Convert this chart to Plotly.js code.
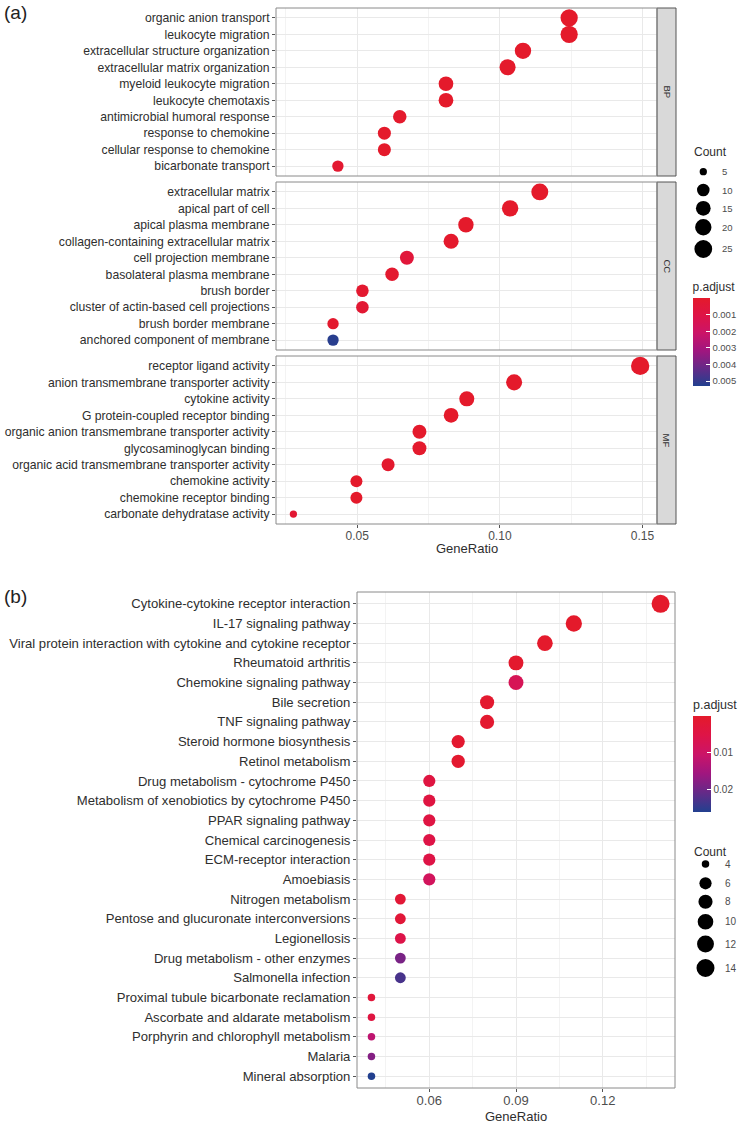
<!DOCTYPE html>
<html>
<head>
<meta charset="utf-8">
<script src="https://cdn.plot.ly/plotly-3.0.1.min.js"></script>
<style>html,body{margin:0;padding:0;background:#fff;}#chart{width:742px;height:1124px;}</style>
</head>
<body>
<div id="chart"></div>
<script>
// ---------- DATA (a) GO enrichment ----------
const bpTerms = ['organic anion transport','leukocyte migration','extracellular structure organization','extracellular matrix organization','myeloid leukocyte migration','leukocyte chemotaxis','antimicrobial humoral response','response to chemokine','cellular response to chemokine','bicarbonate transport'];
const bpRatio = [0.1243,0.1243,0.1081,0.1027,0.0811,0.0811,0.0649,0.0595,0.0595,0.0432];
const bpCount = [23,23,20,19,15,15,12,11,11,8];
const bpPadj  = [1.2e-8,3.5e-9,4.1e-7,2.0e-6,1.5e-7,2.8e-7,8.0e-5,1.1e-5,1.6e-5,2.3e-4];

const ccTerms = ['extracellular matrix','apical part of cell','apical plasma membrane','collagen-containing extracellular matrix','cell projection membrane','basolateral plasma membrane','brush border','cluster of actin-based cell projections','brush border membrane','anchored component of membrane'];
const ccRatio = [0.1140,0.1036,0.0881,0.0829,0.0674,0.0622,0.0518,0.0518,0.0415,0.0415];
const ccCount = [22,20,17,16,13,12,10,10,8,8];
const ccPadj  = [1.0e-9,2.0e-6,1.0e-5,6.0e-5,5.5e-4,1.5e-4,2.0e-4,3.0e-4,1.0e-4,5.2e-3];

const mfTerms = ['receptor ligand activity','anion transmembrane transporter activity','cytokine activity','G protein-coupled receptor binding','organic anion transmembrane transporter activity','glycosaminoglycan binding','organic acid transmembrane transporter activity','chemokine activity','chemokine receptor binding','carbonate dehydratase activity'];
const mfRatio = [0.1492,0.1050,0.0884,0.0829,0.0718,0.0718,0.0608,0.0497,0.0497,0.0276];
const mfCount = [27,19,16,15,13,13,11,9,9,5];
const mfPadj  = [1.0e-12,3.0e-6,2.0e-6,2.0e-6,5.0e-5,6.0e-5,1.2e-4,1.0e-5,1.5e-5,3.0e-4];

const goFacets = ['BP','CC','MF'];
const goXTicks = [0.05,0.10,0.15];
const goXTickText = ['0.05','0.10','0.15'];
const goCountLegend = [5,10,15,20,25];
const goPTicks = [0.001,0.002,0.003,0.004,0.005];

// ---------- DATA (b) KEGG enrichment ----------
const keggTerms = ['Cytokine-cytokine receptor interaction','IL-17 signaling pathway','Viral protein interaction with cytokine and cytokine receptor','Rheumatoid arthritis','Chemokine signaling pathway','Bile secretion','TNF signaling pathway','Steroid hormone biosynthesis','Retinol metabolism','Drug metabolism - cytochrome P450','Metabolism of xenobiotics by cytochrome P450','PPAR signaling pathway','Chemical carcinogenesis','ECM-receptor interaction','Amoebiasis','Nitrogen metabolism','Pentose and glucuronate interconversions','Legionellosis','Drug metabolism - other enzymes','Salmonella infection','Proximal tubule bicarbonate reclamation','Ascorbate and aldarate metabolism','Porphyrin and chlorophyll metabolism','Malaria','Mineral absorption'];
const keggRatio = [0.14,0.11,0.10,0.09,0.09,0.08,0.08,0.07,0.07,0.06,0.06,0.06,0.06,0.06,0.06,0.05,0.05,0.05,0.05,0.05,0.04,0.04,0.04,0.04,0.04];
const keggCount = [14,11,10,9,9,8,8,7,7,6,6,6,6,6,6,5,5,5,5,5,4,4,4,4,4];
const keggPadj  = [1.0e-6,1.0e-5,1.0e-4,5.0e-4,7.5e-3,8.0e-4,1.0e-3,9.0e-4,1.0e-3,4.0e-3,4.0e-3,4.5e-3,5.0e-3,5.0e-3,8.5e-3,2.0e-3,2.5e-3,5.5e-3,1.9e-2,2.3e-2,3.0e-3,4.0e-3,1.2e-2,1.8e-2,2.6e-2];
const keggXTicks = [0.06,0.09,0.12];
const keggXTickText = ['0.06','0.09','0.12'];
const keggCountLegend = [4,6,8,10,12,14];
const keggPTicks = [0.01,0.02];

// ---------- STYLE / LAYOUT HELPERS ----------
const W = 742, H = 1124;
const FONT = 'Liberation Sans, Arial, Helvetica, sans-serif';
const px = v => v / W;
const py = v => 1 - v / H;
// red (low p.adjust) -> blue (high p.adjust); values are negated so red sits on top of the colorbar
const CSCALE = [[0,'#22408F'],[0.2,'#642A88'],[0.4,'#A0167F'],[0.6,'#CB1468'],[0.8,'#DE1447'],[1,'#E41A2B']];
const GRID = '#E9E9E9', MINOR = '#F3F3F3', BORDER = '#8a8a8a', TXT = '#2e2e2e', LTXT = '#4d4d4d';

const goAllCounts = bpCount.concat(ccCount, mfCount);
const goCmin = Math.min(...goAllCounts), goCmax = Math.max(...goAllCounts);
const goSize = c => 7.3 + (18.3 - 7.3) * Math.sqrt((c - goCmin) / (goCmax - goCmin));
const kgCmin = Math.min(...keggCount), kgCmax = Math.max(...keggCount);
const kgSize = c => 7.5 + (18 - 7.5) * Math.sqrt((c - kgCmin) / (kgCmax - kgCmin));

function pointTrace(x, y, counts, padj, sizeFn, xa, ya, cax) {
  return {
    type: 'scatter', mode: 'markers', x: x, y: y, xaxis: xa, yaxis: ya,
    cliponaxis: false, hoverinfo: 'skip',
    marker: { size: counts.map(sizeFn), color: padj.map(p => -p), coloraxis: cax, line: { width: 0 }, opacity: 1 }
  };
}

const data = [
  pointTrace(bpRatio, bpTerms, bpCount, bpPadj, goSize, 'x', 'y', 'coloraxis'),
  pointTrace(ccRatio, ccTerms, ccCount, ccPadj, goSize, 'x', 'y2', 'coloraxis'),
  pointTrace(mfRatio, mfTerms, mfCount, mfPadj, goSize, 'x', 'y3', 'coloraxis'),
  pointTrace(keggRatio, keggTerms, keggCount, keggPadj, kgSize, 'x2', 'y4', 'coloraxis2')
];

// panel pixel geometry
const goX = [276, 657];
const goPanels = [[8, 176], [182, 350], [356, 524]];
const kgX = [357, 675];
const kgY = [592, 1088];
const strip = [657, 676];

function yAxis(terms, yr, fontSize) {
  return {
    domain: [py(yr[1]), py(yr[0])], anchor: 'x', type: 'category',
    categoryorder: 'array', categoryarray: terms,
    range: [terms.length - 0.4, -0.6], autorange: false,
    showgrid: true, gridcolor: GRID, gridwidth: 1, zeroline: false, showline: false,
    ticks: 'outside', ticklen: 3, tickcolor: '#555', tickwidth: 1,
    tickfont: { family: FONT, size: fontSize, color: TXT }, fixedrange: true
  };
}

const layout = {
  width: W, height: H,
  margin: { l: 0, r: 0, t: 0, b: 0, pad: 0 },
  paper_bgcolor: '#ffffff', plot_bgcolor: '#ffffff',
  showlegend: false, hovermode: false,
  font: { family: FONT, color: TXT },
  xaxis: {
    domain: [px(goX[0]), px(goX[1])], anchor: 'y3',
    range: [0.0215, 0.1551], autorange: false,
    tickmode: 'array', tickvals: goXTicks, ticktext: goXTickText,
    showgrid: true, gridcolor: GRID, gridwidth: 1, zeroline: false, showline: false,
    minor: { tickmode: 'linear', tick0: 0, dtick: 0.025, showgrid: true, gridcolor: MINOR, gridwidth: 1, ticks: '' },
    ticks: 'outside', ticklen: 3, tickcolor: '#555', tickwidth: 1, ticklabelstandoff: -2,
    tickfont: { family: FONT, size: 12, color: LTXT }, fixedrange: true
  },
  yaxis: yAxis(bpTerms, goPanels[0], 12.2),
  yaxis2: yAxis(ccTerms, goPanels[1], 12.2),
  yaxis3: yAxis(mfTerms, goPanels[2], 12.2),
  xaxis2: {
    domain: [px(kgX[0]), px(kgX[1])], anchor: 'y4',
    range: [0.035, 0.145], autorange: false,
    tickmode: 'array', tickvals: keggXTicks, ticktext: keggXTickText,
    showgrid: true, gridcolor: GRID, gridwidth: 1, zeroline: false, showline: false,
    minor: { tickmode: 'linear', tick0: 0, dtick: 0.015, showgrid: true, gridcolor: MINOR, gridwidth: 1, ticks: '' },
    ticks: 'outside', ticklen: 3, tickcolor: '#555', tickwidth: 1, ticklabelstandoff: -3,
    tickfont: { family: FONT, size: 13, color: LTXT }, fixedrange: true
  },
  yaxis4: Object.assign(yAxis(keggTerms, kgY, 13.1), { anchor: 'x2' }),
  coloraxis: {
    cmin: -0.0053, cmax: 0, colorscale: CSCALE, showscale: true,
    colorbar: {
      x: px(692.5), xanchor: 'left', y: py(386), yanchor: 'bottom',
      len: 107, lenmode: 'pixels', thickness: 17, thicknessmode: 'pixels',
      xpad: 0, ypad: 0, outlinewidth: 0,
      tickmode: 'array', tickvals: goPTicks.map(v => -v), ticktext: goPTicks.map(v => v.toFixed(3)),
      ticks: 'inside', ticklen: 4, tickcolor: '#ffffff', tickwidth: 1,
      tickfont: { family: FONT, size: 9.5, color: LTXT },
      title: { text: 'p.adjust', side: 'top', font: { family: FONT, size: 12, color: TXT } }
    }
  },
  coloraxis2: {
    cmin: -0.026, cmax: 0, colorscale: CSCALE, showscale: true,
    colorbar: {
      x: px(693), xanchor: 'left', y: py(812), yanchor: 'bottom',
      len: 115, lenmode: 'pixels', thickness: 18, thicknessmode: 'pixels',
      xpad: 0, ypad: 0, outlinewidth: 0,
      tickmode: 'array', tickvals: keggPTicks.map(v => -v), ticktext: keggPTicks.map(v => v.toFixed(2)),
      ticks: 'inside', ticklen: 4, tickcolor: '#ffffff', tickwidth: 1,
      tickfont: { family: FONT, size: 10, color: LTXT },
      title: { text: 'p.adjust', side: 'top', font: { family: FONT, size: 12.5, color: TXT } }
    }
  },
  shapes: [],
  annotations: []
};

// panel borders and facet strips
goPanels.forEach((yr, i) => {
  layout.shapes.push({ type: 'rect', xref: 'paper', yref: 'paper', x0: px(strip[0]), x1: px(strip[1]), y0: py(yr[1]), y1: py(yr[0]), fillcolor: '#D9D9D9', line: { color: '#555555', width: 1 }, layer: 'above' });
  layout.shapes.push({ type: 'rect', xref: 'paper', yref: 'paper', x0: px(goX[0]), x1: px(goX[1]), y0: py(yr[1]), y1: py(yr[0]), fillcolor: 'rgba(0,0,0,0)', line: { color: BORDER, width: 1 }, layer: 'above' });
  layout.annotations.push({ xref: 'paper', yref: 'paper', x: px((strip[0] + strip[1]) / 2), y: py((yr[0] + yr[1]) / 2), text: goFacets[i], textangle: 90, showarrow: false, xanchor: 'center', yanchor: 'middle', font: { family: FONT, size: 9.5, color: '#333' } });
});
layout.shapes.push({ type: 'rect', xref: 'paper', yref: 'paper', x0: px(kgX[0]), x1: px(kgX[1]), y0: py(kgY[1]), y1: py(kgY[0]), fillcolor: 'rgba(0,0,0,0)', line: { color: BORDER, width: 1 }, layer: 'above' });

// axis titles & panel labels
function ann(text, x, y, size, xanchor, color) {
  layout.annotations.push({ xref: 'paper', yref: 'paper', x: px(x), y: py(y), text: text, showarrow: false, xanchor: xanchor || 'center', yanchor: 'middle', font: { family: FONT, size: size, color: color || TXT } });
}
ann('GeneRatio', (goX[0] + goX[1]) / 2, 548, 13);
ann('GeneRatio', (kgX[0] + kgX[1]) / 2, 1116, 13);
ann('(a)', 2, 13, 19, 'left', '#222');
ann('(b)', 2, 596, 19, 'left', '#222');

// size legends
function countLegend(values, ys, cx, labelX, titleY, sizeFn, labSize) {
  ann('Count', 692, titleY, 12, 'left');
  values.forEach((v, i) => {
    const d = sizeFn(v);
    layout.shapes.push({ type: 'circle', xref: 'paper', yref: 'paper', xsizemode: 'pixel', ysizemode: 'pixel', xanchor: px(cx), yanchor: py(ys[i]), x0: -d / 2, x1: d / 2, y0: -d / 2, y1: d / 2, fillcolor: '#000000', line: { width: 0 } });
    ann(String(v), labelX, ys[i], labSize, 'left', LTXT);
  });
}
countLegend(goCountLegend, [171.7, 190, 208.3, 227.3, 249], 703.3, 720, 152.5, goSize, 9.5);
countLegend(keggCountLegend, [864, 883.3, 901.7, 921.7, 944, 968], 705.5, 723, 851.5, kgSize, 10);

Plotly.newPlot('chart', data, layout, { staticPlot: true, displayModeBar: false });
</script>
</body>
</html>
